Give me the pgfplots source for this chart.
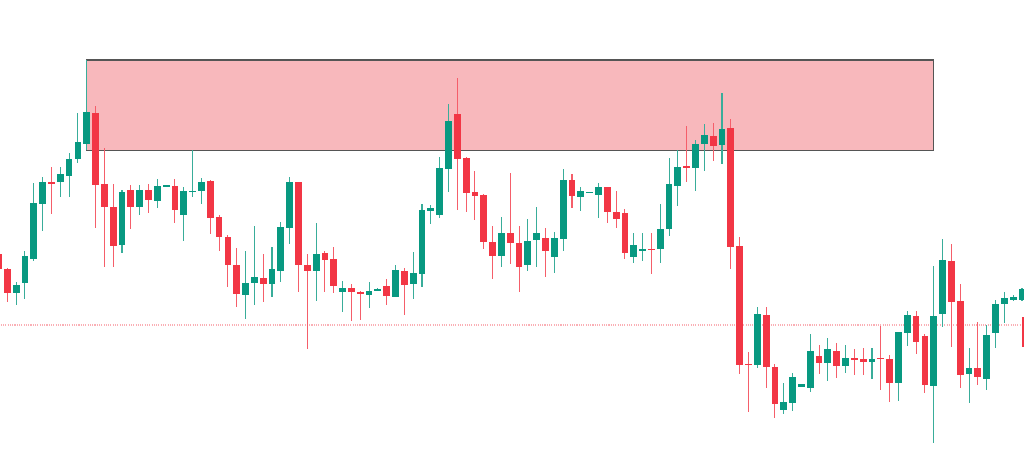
\documentclass[border=0pt]{standalone}
\usepackage{pgfplots}
\usepackage{pgfplotstable}
\pgfplotsset{compat=1.18}
\usetikzlibrary{backgrounds}

\definecolor{upc}{RGB}{8,153,129}
\definecolor{downc}{RGB}{242,54,69}
\definecolor{zonefill}{RGB}{248,184,188}
\definecolor{zonedraw}{RGB}{85,85,85}

% n = bar index, o h l c in screen units (y grows downward)
\pgfplotstableread{
n o h l c
0 254 250 272 269.3
1 269.3 268 302 293.3
2 293.3 281.7 305 285
3 283.3 250.7 299.3 256
4 259.3 183.3 260.7 203.3
5 204 176.7 231 182.3
6 182.3 167.3 214 184.3
7 182 166.7 197.3 173.7
8 175.7 153.3 197.3 158.7
9 159.3 113.3 163.3 142.3
10 144 60 150 112
11 113.3 106 227.7 185
12 184.3 148.3 267.3 207.3
13 206.7 184 266.7 245.7
14 245 190 252.7 191.7
15 190 185.3 228.7 206.7
16 206.7 185.3 215 190
17 190 184.3 212.7 200
18 200.7 178.7 207.7 186
19 186 185.3 186.3 185.7
20 186 179.3 222.7 210
21 215.3 187.3 240.7 190.7
22 192.3 150.5 197.3 190.7
23 191 178 204 182
24 181.3 180 234.3 217.7
25 217.3 214.7 250.7 236.7
26 236.7 234.7 287.3 265.3
27 264.7 248.3 307.3 294.3
28 295 250.7 319.3 282.7
29 282.7 225.7 305 277.3
30 278.3 254.3 302 284.3
31 284 247.3 297.3 269.3
32 270.7 222.3 281.7 227.3
33 228.3 176.7 244 182.3
34 182.3 182.3 291.7 265
35 264.7 254.3 349.3 271.3
36 270.7 223.3 300.7 254.3
37 253 250.7 291.7 260
38 259.3 246.7 293.3 286
39 291.7 281 312 288
40 288 284.3 321 292.3
41 292.3 291 320 293.7
42 295.3 281.7 308.3 291
43 290 288.5 290.5 289.5
44 286 278.7 305 296
45 297 265.3 297 270.3
46 271 268 315 285.3
47 283.7 252.3 299.3 272.7
48 273.7 204.3 286.7 210.3
49 210.7 205.3 224.3 208
50 214.7 157.3 218.3 168.3
51 168.7 104.3 192.3 120.7
52 114.3 78.3 210 158.7
53 158.3 157.3 212.3 192.7
54 192.3 171 220 195.7
55 195.3 194.3 248.7 241.7
56 241.7 225.7 279.3 256
57 256 217.3 267.3 232.7
58 233.3 173.3 264.3 243.3
59 242.7 226 291.7 267.3
60 265.3 219.3 270.7 240.7
61 240.3 207 267.3 232.7
62 238.3 228.3 276.7 251
63 257.3 232 272.7 238.3
64 238.7 169.3 250.7 180
65 180 174.3 207.7 195.7
66 196.7 187.3 210.7 191
67 192.5 192 192.7 192.2
68 195 183.3 217.7 187
69 187.3 186.7 222.7 212.3
70 212 191.3 227.7 219.3
71 213.3 209.3 258.7 252.7
72 257.3 232.7 262.7 245.3
73 251 232.7 260.7 248.7
74 249.2 232.7 274.3 249.5
75 249.3 204 262.7 229.3
76 229.3 157.7 236 183.7
77 185.7 150 206 167.3
78 166.5 126 182 167
79 167.7 140 191.3 144
80 144.3 124 170.7 135.3
81 136.3 122.7 160.7 146
82 145.3 92.7 164 129.3
83 128.3 119 269 247.3
84 246 237.3 374 365
85 364 352 411.7 364.5
86 365 306.7 368.3 314.3
87 315.3 306.7 388.3 366.7
88 367.3 364 418.3 404.3
89 410 382.7 414.3 402.3
90 402.7 372.7 410.7 377.3
91 387.3 384.3 387.3 384.3
92 388.3 334.3 391.7 351
93 356.3 345.3 374.3 363.3
94 363.3 338.3 380.7 349.3
95 351 343.3 378.3 366
96 366 345 372.7 358
97 358.5 349.3 375 359
98 359 347.7 375 362.3
99 362.3 347.7 379 359
100 358 325.7 390 358.7
101 359 355 401.7 383.3
102 383.3 331.7 400.7 331.7
103 332.7 310.7 346 314.7
104 316.3 310.7 354.3 342.3
105 336.3 334 392.7 385
106 385.7 265.7 443.3 316
107 314 239.3 327.3 260
108 261 244.3 347.3 302
109 301.3 284 388.3 374.7
110 374.3 348 402.7 368.3
111 368.3 322.3 385 377.3
112 379 325.3 390 335
113 333.3 300 348.3 304.3
114 304.3 292.3 323.3 298.3
115 300 295.5 301 296.7
116 300 288 301 289
}\candles

\begin{document}
\begin{tikzpicture}
\begin{axis}[
  hide axis,
  scale only axis,
  width=10.24cm, height=4.71cm,
  xmin=0.17, xmax=116.23,
  ymin=0, ymax=471,
  y dir=reverse,
]
% supply zone
\addplot[fill=zonefill, draw=zonedraw, line width=0.35pt]
  coordinates {(10,60) (106,60) (106,150.7) (10,150.7)} -- cycle;
% last price line
\addplot[downc!40, line width=0.3pt, dash pattern=on 0.3pt off 0.35pt]
  coordinates {(0,325) (117,325)};

% wicks
\addplot[draw=none, mark=none, error bars/.cd, y dir=both, y explicit,
  error mark=none, error bar style={line width=0.3pt, draw=upc!80}]
  table[x=n, y expr={\thisrow{c}<\thisrow{o} ? (\thisrow{h}+\thisrow{l})/2 : nan},
        y error expr={(\thisrow{l}-\thisrow{h})/2}] {\candles};
\addplot[draw=none, mark=none, error bars/.cd, y dir=both, y explicit,
  error mark=none, error bar style={line width=0.3pt, draw=downc!80}]
  table[x=n, y expr={\thisrow{c}<\thisrow{o} ? nan : (\thisrow{h}+\thisrow{l})/2},
        y error expr={(\thisrow{l}-\thisrow{h})/2}] {\candles};

% bodies
\addplot[draw=none, mark=none, error bars/.cd, y dir=both, y explicit,
  error mark=none, error bar style={line width=0.068cm, draw=upc}]
  table[x=n, y expr={\thisrow{c}<\thisrow{o} ? (\thisrow{o}+\thisrow{c})/2 : nan},
        y error expr={max(abs(\thisrow{o}-\thisrow{c})/2,0.6)}] {\candles};
\addplot[draw=none, mark=none, error bars/.cd, y dir=both, y explicit,
  error mark=none, error bar style={line width=0.068cm, draw=downc}]
  table[x=n, y expr={\thisrow{c}<\thisrow{o} ? nan : (\thisrow{o}+\thisrow{c})/2},
        y error expr={max(abs(\thisrow{o}-\thisrow{c})/2,0.6)}] {\candles};

% price tag cut off at the right edge
\addplot[fill=downc, draw=none]
  coordinates {(116.05,317) (116.5,317) (116.5,347) (116.05,347)} -- cycle;
\end{axis}
\begin{scope}[on background layer]
  \fill[white] (current axis.south west) rectangle (current axis.north east);
\end{scope}
\pgfresetboundingbox
\path (current axis.south west) rectangle (current axis.north east);
\end{tikzpicture}
\end{document}
